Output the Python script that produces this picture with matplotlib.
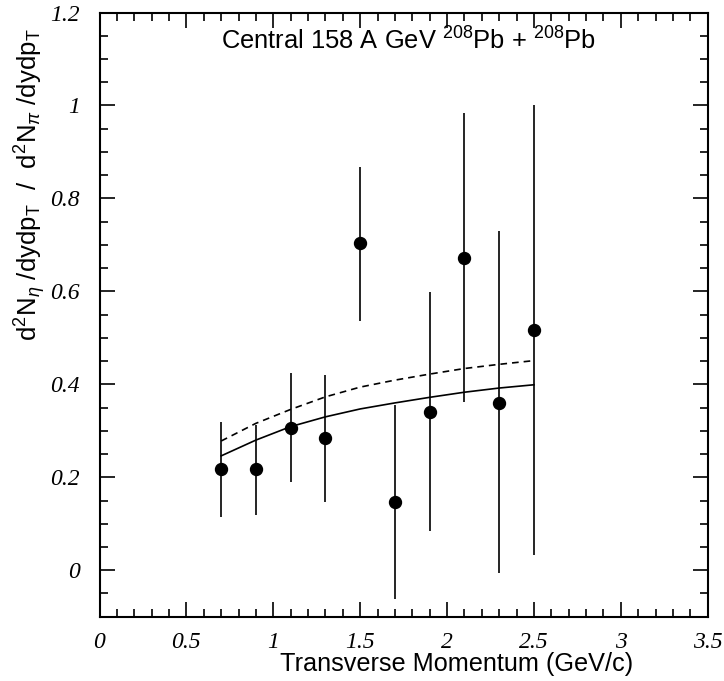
import matplotlib
matplotlib.use("Agg")
import matplotlib.pyplot as plt
from matplotlib.ticker import MultipleLocator, FuncFormatter

# Data
pt = [0.7, 0.9, 1.1, 1.3, 1.5, 1.7, 1.9, 2.1, 2.3, 2.5]
ratio = [0.217, 0.217, 0.307, 0.284, 0.703, 0.147, 0.341, 0.672, 0.360, 0.516]
err_hi = [0.319, 0.312, 0.424, 0.421, 0.868, 0.355, 0.599, 0.984, 0.730, 1.000]
err_lo = [0.115, 0.119, 0.190, 0.147, 0.536, -0.062, 0.084, 0.361, -0.007, 0.033]

curve_x = [0.7, 0.9, 1.1, 1.3, 1.5, 1.7, 1.9, 2.1, 2.3, 2.5]
curve_solid = [0.246, 0.280, 0.309, 0.330, 0.347, 0.360, 0.372, 0.383, 0.392, 0.399]
curve_dashed = [0.278, 0.316, 0.346, 0.373, 0.394, 0.409, 0.422, 0.434, 0.443, 0.451]

x_ticks = [0, 0.5, 1, 1.5, 2, 2.5, 3, 3.5]
y_ticks = [0, 0.2, 0.4, 0.6, 0.8, 1.0, 1.2]

plt.rcParams['mathtext.fontset'] = 'custom'
plt.rcParams['mathtext.rm'] = 'Liberation Sans'
plt.rcParams['mathtext.it'] = 'Liberation Sans:italic'
plt.rcParams['mathtext.bf'] = 'Liberation Sans:bold'

W, H = 724, 681
fig = plt.figure(figsize=(W / 100, H / 100), dpi=100)
L, R, T, B = 99.5, 707.7, 12.5, 616.7
ax = fig.add_axes([L / W, 1 - B / H, (R - L) / W, (B - T) / H])

ax.set_xlim(0, 3.5)
ax.set_ylim(-0.1, 1.2)

yerr = [[r - lo for r, lo in zip(ratio, err_lo)], [hi - r for r, hi in zip(ratio, err_hi)]]
ax.errorbar(pt, ratio, yerr=yerr, fmt='o', color='black', ms=8.6,
            elinewidth=1.2, capsize=0, zorder=3)
ax.plot(curve_x, curve_solid, color='black', lw=1.2, zorder=2)
ax.plot(curve_x, curve_dashed, color='black', lw=1.2, dashes=(4, 3), zorder=2)

ax.xaxis.set_major_locator(MultipleLocator(0.5))
ax.xaxis.set_minor_locator(MultipleLocator(0.1))
ax.yaxis.set_major_locator(MultipleLocator(0.2))
ax.yaxis.set_minor_locator(MultipleLocator(0.05))

def fmt(v, pos):
    if abs(v) < 1e-9:
        return '0'
    s = ('%.1f' % v)
    if s.endswith('.0'):
        s = s[:-2]
    return s

ax.xaxis.set_major_formatter(FuncFormatter(fmt))
ax.yaxis.set_major_formatter(FuncFormatter(fmt))
ax.set_xticks(x_ticks)
ax.set_yticks(y_ticks)

ax.tick_params(which='both', direction='in', top=True, right=True, width=1.2)
ax.tick_params(which='major', length=11)
ax.tick_params(which='minor', length=5.5)
ax.tick_params(axis='x', pad=11)
ax.tick_params(axis='y', pad=14)
for lab in ax.get_xticklabels() + ax.get_yticklabels():
    lab.set_fontfamily('Liberation Serif')
    lab.set_fontstyle('italic')
    lab.set_fontsize(17)
for s in ax.spines.values():
    s.set_linewidth(1.5)

fig.text(408.5 / W, 1 - 41 / H, r"Central 158 A GeV $^{208}$Pb + $^{208}$Pb",
         ha='center', va='center', fontsize=18.4, family='Liberation Sans')
fig.text(456.5 / W, 1 - 664 / H, "Transverse Momentum (GeV/c)",
         ha='center', va='center', fontsize=18.2, family='Liberation Sans')
fig.text(30 / W, 1 - 28 / H,
         r"d$^{2}$N$_{\eta}$ /dydp$_{\mathrm{T}}$  /  d$^{2}$N$_{\pi}$ /dydp$_{\mathrm{T}}$",
         ha='center', va='top', rotation=90, fontsize=18.5, family='Liberation Sans')

fig.savefig('out.png', dpi=100)
